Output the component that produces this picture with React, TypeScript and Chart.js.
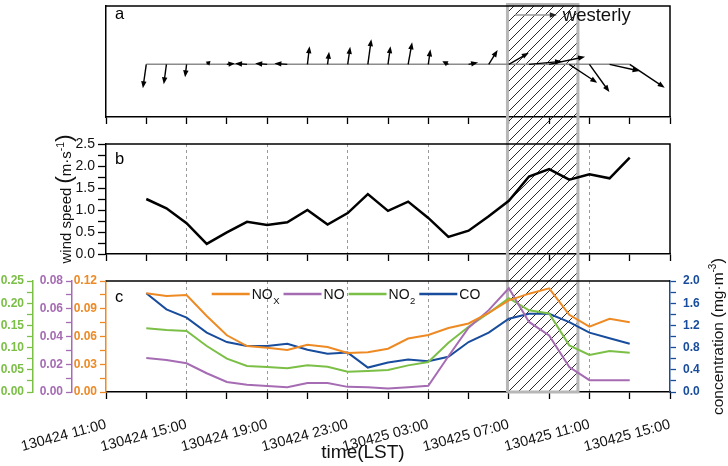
import React, { useEffect, useRef } from 'react';
import { Chart, registerables } from 'chart.js';

Chart.register(...registerables);

const FONT = "'Liberation Sans', Arial, Helvetica, sans-serif";
Chart.defaults.font.family = FONT;

// hours since 130424 11:00 (hourly samples 13:00 .. 13:00 next day)
const hours = [2, 3, 4, 5, 6, 7, 8, 9, 10, 11, 12, 13, 14, 15, 16, 17, 18, 19, 20, 21, 22, 23, 24, 25, 26];
const xTickLabels = ['130424 11:00', '130424 15:00', '130424 19:00', '130424 23:00', '130425 03:00', '130425 07:00', '130425 11:00', '130425 15:00'];

// wind vector components (m/s): u eastward, v northward
const windU = [-0.18, -0.14, -0.08, 0.2, 0.42, -0.63, -0.63, -0.68, 0.11, 0.08, 0.13, 0.18, 0.13, 0.21, 0.11, -0.32, 0.5, 0.47, 1.05, 1.74, 1.89, 1.47, 1.05, 1.58, 1.84];
const windV = [-1.26, -1.05, -0.68, 0.18, 0.05, 0.05, 0.05, 0.05, 0.95, 0.66, 0.92, 1.32, 0.95, 1.16, 0.79, 0.16, 0.1, 0.75, 0.61, 0.16, 0.4, -0.97, -1.46, -0.35, -1.23];
const westerlyRef = 2.2;

// wind speed (m/s)
const windSpeed = [1.25, 1.04, 0.7, 0.23, 0.49, 0.73, 0.66, 0.72, 1.0, 0.67, 0.93, 1.36, 0.98, 1.19, 0.82, 0.39, 0.53, 0.86, 1.21, 1.76, 1.93, 1.69, 1.81, 1.72, 2.19];

// concentrations
const nox = [0.1067, 0.1038, 0.1049, 0.0822, 0.0613, 0.0497, 0.0479, 0.0454, 0.051, 0.0487, 0.0422, 0.043, 0.0468, 0.0578, 0.0616, 0.0692, 0.0741, 0.0855, 0.099, 0.1063, 0.112, 0.0835, 0.0706, 0.0792, 0.0755];
const no = [0.0245, 0.0231, 0.0207, 0.0135, 0.0072, 0.0053, 0.0043, 0.0034, 0.0065, 0.0064, 0.0037, 0.0035, 0.0026, 0.0034, 0.0045, 0.0258, 0.0463, 0.059, 0.0748, 0.0505, 0.0408, 0.018, 0.0085, 0.0085, 0.0085];
const no2 = [0.1434, 0.1396, 0.1374, 0.1036, 0.075, 0.0586, 0.0563, 0.0533, 0.06, 0.057, 0.0458, 0.0473, 0.0495, 0.06, 0.0676, 0.111, 0.147, 0.178, 0.2115, 0.184, 0.177, 0.105, 0.0833, 0.0923, 0.0886];
const co = [1.78, 1.49, 1.34, 1.07, 0.9, 0.83, 0.83, 0.87, 0.76, 0.69, 0.71, 0.44, 0.53, 0.585, 0.555, 0.635, 0.9, 1.07, 1.32, 1.41, 1.41, 1.26, 1.07, 0.97, 0.87];

const seriesNames = ['NO', 'NO', 'NO', 'CO'];
const seriesSubs = ['X', '', '2', ''];

// shaded period (hours since 130424 11:00)
const hatchFrom = 19.93;
const hatchTo = 23.43;

const ORANGE = '#EE8A24';
const PURPLE = '#A66CB3';
const GREEN = '#7BBF47';
const BLUE = '#184C9C';

// page layout of the three canvases
const TOP_A = 0, H_A = 130;
const TOP_B = 130, H_B = 137;
const TOP_C = 250, H_C = 216;
const SPLIT_AB = 130, SPLIT_BC = 262;

const isMult = (v: number, s: number) => Math.abs(v / s - Math.round(v / s)) < 1e-6;
const pts = (arr: number[]) => hours.map((h, i) => ({ x: h, y: arr[i] }));

function xScaleOpts(labels: boolean, grid: boolean, height: number): any {
  return {
    type: 'linear',
    min: 0,
    max: 28,
    afterFit: (s: any) => { s.height = height; },
    ticks: {
      stepSize: 2,
      autoSkip: false,
      display: labels,
      minRotation: 15,
      maxRotation: 15,
      padding: 17,
      color: '#111',
      font: { size: 14.5, family: FONT },
      callback: (v: number) => (isMult(v, 4) ? xTickLabels[Math.round(v / 4)] : ''),
    },
    grid: {
      drawOnChartArea: grid,
      color: (c: any) => (c.tick && isMult(c.tick.value, 4) && c.tick.value > 0 && c.tick.value < 28 ? '#9a9a9a' : 'rgba(0,0,0,0)'),
      tickColor: '#000',
      tickLength: 7,
      lineWidth: 1,
      tickWidth: 1.3,
    },
    border: { color: '#000', width: 1.5, dash: [3, 3] },
  };
}

function drawArrow(ctx: CanvasRenderingContext2D, x0: number, y0: number, x1: number, y1: number, lineColor: string, headColor: string) {
  const dx = x1 - x0, dy = y1 - y0, len = Math.hypot(dx, dy);
  if (len < 0.5) return;
  const ux = dx / len, uy = dy / len;
  const hl = Math.min(7, len * 0.8), hw = 2.7;
  const bx = x1 - ux * hl, by = y1 - uy * hl;
  ctx.strokeStyle = lineColor;
  ctx.lineWidth = 1.4;
  ctx.beginPath();
  ctx.moveTo(x0, y0);
  ctx.lineTo(bx + ux * 1, by + uy * 1);
  ctx.stroke();
  ctx.fillStyle = headColor;
  ctx.beginPath();
  ctx.moveTo(x1, y1);
  ctx.lineTo(bx - uy * hw, by + ux * hw);
  ctx.lineTo(bx + uy * hw, by - ux * hw);
  ctx.closePath();
  ctx.fill();
}

type Part = { t: string; size: number; dy?: number };
function drawRich(ctx: CanvasRenderingContext2D, parts: Part[], cx: number, cy: number, angle: number, baseOff: number, color: string) {
  ctx.save();
  ctx.translate(cx, cy);
  ctx.rotate(angle);
  ctx.textBaseline = 'alphabetic';
  ctx.textAlign = 'left';
  ctx.fillStyle = color;
  const widths = parts.map((p) => { ctx.font = `${p.size}px ${FONT}`; return ctx.measureText(p.t).width; });
  const total = widths.reduce((a, b) => a + b, 0);
  let xx = -total / 2;
  parts.forEach((p, i) => {
    ctx.font = `${p.size}px ${FONT}`;
    ctx.fillText(p.t, xx, baseOff + (p.dy || 0));
    xx += widths[i];
  });
  ctx.restore();
}

// hatch drawn between page rows pageFrom..pageTo (null = use chart area edge)
const hatch = (pageTop: number, pageFrom: number | null, pageTo: number | null) => ({
  id: 'hatch',
  beforeDatasetsDraw(chart: any) {
    const { ctx, chartArea: ca, scales } = chart;
    const x0 = scales.x.getPixelForValue(hatchFrom);
    const x1 = scales.x.getPixelForValue(hatchTo);
    const withTop = pageFrom === null;
    const withBottom = pageTo === null;
    const y0 = withTop ? ca.top - 1.5 : (pageFrom as number) - pageTop;
    const y1 = withBottom ? ca.bottom : (pageTo as number) - pageTop;
    ctx.save();
    ctx.beginPath();
    ctx.rect(x0, y0, x1 - x0, y1 - y0);
    ctx.clip();
    ctx.strokeStyle = '#111';
    ctx.lineWidth = 0.9;
    const s = 10;
    const kMin = Math.floor((x0 + y0 + pageTop) / s) - 1;
    const kMax = Math.ceil((x1 + y1 + pageTop) / s) + 1;
    ctx.beginPath();
    for (let k = kMin; k <= kMax; k++) {
      const c = k * s - pageTop;
      ctx.moveTo(c - y0, y0);
      ctx.lineTo(c - y1, y1);
    }
    ctx.stroke();
    ctx.restore();
    ctx.save();
    ctx.strokeStyle = '#b7b7b7';
    ctx.lineWidth = 3;
    ctx.beginPath();
    ctx.moveTo(x0, y1);
    ctx.lineTo(x0, y0);
    if (withTop) ctx.lineTo(x1, y0); else ctx.moveTo(x1, y0);
    ctx.lineTo(x1, y1);
    if (withBottom) { ctx.lineTo(x0, y1); }
    ctx.stroke();
    ctx.restore();
  },
});

const frame = (label: string, labelDy: number, rightLine: boolean) => ({
  id: 'frame',
  afterDraw(chart: any) {
    const { ctx, chartArea: ca } = chart;
    ctx.save();
    ctx.strokeStyle = '#000';
    ctx.lineWidth = 1.5;
    ctx.beginPath();
    ctx.moveTo(ca.left, ca.top);
    ctx.lineTo(ca.right, ca.top);
    if (rightLine) ctx.lineTo(ca.right, ca.bottom);
    ctx.stroke();
    ctx.fillStyle = '#000';
    ctx.font = `16.5px ${FONT}`;
    ctx.textBaseline = 'alphabetic';
    ctx.textAlign = 'left';
    ctx.fillText(label, ca.left + 9, ca.top + labelDy);
    ctx.restore();
  },
});

const windArrows = {
  id: 'windArrows',
  afterDatasetsDraw(chart: any) {
    const { ctx, chartArea: ca, scales } = chart;
    const x = scales.x, y = scales.y;
    const base = y.getPixelForValue(0);
    const k = base - y.getPixelForValue(1);
    ctx.save();
    hours.forEach((h, i) => {
      const bx = x.getPixelForValue(h);
      drawArrow(ctx, bx, base, bx + windU[i] * k, base - windV[i] * k, '#000', '#000');
    });
    const lx = ca.right - 155, ly = ca.top + 9;
    drawArrow(ctx, lx, ly, lx + westerlyRef * k, ly, '#9a9a9a', '#222');
    ctx.font = `18.5px ${FONT}`;
    ctx.fillStyle = '#111';
    ctx.textBaseline = 'middle';
    ctx.textAlign = 'left';
    ctx.fillText('westerly', lx + westerlyRef * k + 6, ly + 1);
    ctx.restore();
  },
};

const windTitle = {
  id: 'windTitle',
  afterDraw(chart: any) {
    const { ctx, chartArea: ca } = chart;
    drawRich(ctx, [
      { t: 'wind speed ', size: 15 },
      { t: '(', size: 22 },
      { t: 'm·s', size: 15 },
      { t: '-1', size: 10.5, dy: -7 },
      { t: ')', size: 22 },
    ], 66, (ca.top + ca.bottom) / 2, -Math.PI / 2, 5, '#111');
  },
};

const concExtras = {
  id: 'concExtras',
  afterDraw(chart: any) {
    const { ctx, chartArea: ca } = chart;
    // right axis title
    drawRich(ctx, [
      { t: 'concentration ', size: 15.5 },
      { t: '(', size: 17 },
      { t: 'mg·m', size: 15.5 },
      { t: '-3', size: 10, dy: -7 },
      { t: ')', size: 17 },
    ], 717, (ca.top + ca.bottom) / 2, -Math.PI / 2, 6, '#111');
    // x title
    ctx.save();
    ctx.font = `19px ${FONT}`;
    ctx.fillStyle = '#111';
    ctx.textAlign = 'center';
    ctx.textBaseline = 'alphabetic';
    ctx.fillText('time(LST)', (ca.left + ca.right) / 2 - 25, ca.bottom + 66);
    ctx.restore();
    // legend
    ctx.save();
    let lx = ca.left + 105.7;
    const ly = ca.top + 13;
    chart.data.datasets.forEach((ds: any, i: number) => {
      ctx.strokeStyle = ds.borderColor;
      ctx.lineWidth = 2.5;
      ctx.beginPath();
      ctx.moveTo(lx, ly);
      ctx.lineTo(lx + 38, ly);
      ctx.stroke();
      lx += 40;
      ctx.fillStyle = '#111';
      ctx.textBaseline = 'middle';
      ctx.textAlign = 'left';
      ctx.font = `14px ${FONT}`;
      ctx.fillText(seriesNames[i], lx, ly + 1);
      lx += ctx.measureText(seriesNames[i]).width;
      if (seriesSubs[i]) {
        ctx.font = `9.5px ${FONT}`;
        ctx.fillText(seriesSubs[i], lx + 0.5, ly + 7);
        lx += ctx.measureText(seriesSubs[i]).width + 0.5;
      }
      lx += 4;
    });
    ctx.restore();
  },
};

function leftAxis(color: string, weight: number, width: number, max: number, minor: number, major: number, decimals: number): any {
  return {
    type: 'linear',
    position: 'left',
    weight,
    min: 0,
    max,
    afterFit: (s: any) => { s.width = width; },
    ticks: {
      stepSize: minor,
      autoSkip: false,
      color,
      padding: 3,
      font: { size: 12, weight: 'bold', family: FONT },
      callback: (v: number) => (isMult(v, major) ? v.toFixed(decimals) : ''),
    },
    grid: { drawOnChartArea: false, tickLength: 6, tickColor: color, tickWidth: 1.3 },
    border: { color, width: 1.5 },
  };
}

export default function App() {
  const aRef = useRef<HTMLCanvasElement>(null);
  const bRef = useRef<HTMLCanvasElement>(null);
  const cRef = useRef<HTMLCanvasElement>(null);

  useEffect(() => {
    const common: any = {
      responsive: false,
      animation: false,
      devicePixelRatio: 1,
      plugins: { legend: { display: false }, tooltip: { enabled: false } },
    };

    const chartA = new Chart(aRef.current as HTMLCanvasElement, {
      type: 'line',
      data: {
        datasets: [{
          data: [{ x: hours[0], y: 0 }, { x: hours[hours.length - 1], y: 0 }],
          borderColor: '#8c8c8c', borderWidth: 1.5, pointRadius: 0,
        }],
      },
      options: {
        ...common,
        layout: { padding: { top: 6, right: 58, left: 0, bottom: 0 } },
        scales: {
          x: xScaleOpts(false, false, 13),
          y: {
            type: 'linear', min: -2.77, max: 3.07,
            afterFit: (s: any) => { s.width = 106; },
            ticks: { display: false },
            grid: { display: false },
            border: { color: '#000', width: 1.5 },
          },
        },
      } as any,
      plugins: [hatch(TOP_A, null, SPLIT_AB), windArrows, frame('a', 12.5, true)] as any,
    });

    const chartB = new Chart(bRef.current as HTMLCanvasElement, {
      type: 'line',
      data: {
        datasets: [{ data: pts(windSpeed), borderColor: '#000', borderWidth: 2.5, pointRadius: 0, tension: 0 }],
      },
      options: {
        ...common,
        layout: { padding: { top: 14, right: 58, left: 0, bottom: 0 } },
        scales: {
          x: xScaleOpts(false, true, 13),
          y: {
            type: 'linear', min: 0, max: 2.5,
            afterFit: (s: any) => { s.width = 106; },
            ticks: {
              stepSize: 0.25, autoSkip: false, color: '#111', padding: 3,
              font: { size: 14, family: FONT },
              callback: (v: number) => (isMult(v, 0.5) ? v.toFixed(1) : ''),
            },
            grid: { drawOnChartArea: false, tickLength: 8, tickColor: '#000', tickWidth: 1.3 },
            border: { color: '#000', width: 1.5 },
          },
        },
      } as any,
      plugins: [hatch(TOP_B, SPLIT_AB, SPLIT_BC), windTitle, frame('b', 19.5, true)] as any,
    });

    const chartC = new Chart(cRef.current as HTMLCanvasElement, {
      type: 'line',
      data: {
        datasets: [
          { data: pts(nox), yAxisID: 'yNOx', borderColor: ORANGE, borderWidth: 2, pointRadius: 0, tension: 0 },
          { data: pts(no), yAxisID: 'yNO', borderColor: PURPLE, borderWidth: 2, pointRadius: 0, tension: 0 },
          { data: pts(no2), yAxisID: 'yNO2', borderColor: GREEN, borderWidth: 2, pointRadius: 0, tension: 0 },
          { data: pts(co), yAxisID: 'yCO', borderColor: BLUE, borderWidth: 2, pointRadius: 0, tension: 0 },
        ],
      },
      options: {
        ...common,
        layout: { padding: { top: 31, right: 0, left: 0, bottom: 0 } },
        scales: {
          x: xScaleOpts(true, true, 74),
          yNOx: leftAxis(ORANGE, 0, 34, 0.12, 0.015, 0.03, 2),
          yNO: leftAxis(PURPLE, 1, 39, 0.08, 0.01, 0.02, 2),
          yNO2: leftAxis(GREEN, 2, 33, 0.25, 0.025, 0.05, 2),
          yCO: {
            type: 'linear', position: 'right', min: 0, max: 2.0,
            afterFit: (s: any) => { s.width = 58; },
            ticks: {
              stepSize: 0.2, autoSkip: false, color: BLUE, padding: 7,
              font: { size: 12, weight: 'bold', family: FONT },
              callback: (v: number) => (isMult(v, 0.4) ? v.toFixed(1) : ''),
            },
            grid: { drawOnChartArea: false, tickLength: 6, tickColor: BLUE, tickWidth: 1.3 },
            border: { color: BLUE, width: 1.5 },
          },
        },
      } as any,
      plugins: [hatch(TOP_C, SPLIT_BC, null), concExtras, frame('c', 20.5, false)] as any,
    });

    return () => { chartA.destroy(); chartB.destroy(); chartC.destroy(); };
  }, []);

  return (
    <div style={{ position: 'absolute', left: 0, top: 0, width: 728, height: 466, background: '#fff' }}>
      <canvas ref={aRef} width={728} height={H_A} style={{ position: 'absolute', left: 0, top: TOP_A }} />
      <canvas ref={bRef} width={728} height={H_B} style={{ position: 'absolute', left: 0, top: TOP_B }} />
      <canvas ref={cRef} width={728} height={H_C} style={{ position: 'absolute', left: 0, top: TOP_C }} />
    </div>
  );
}
